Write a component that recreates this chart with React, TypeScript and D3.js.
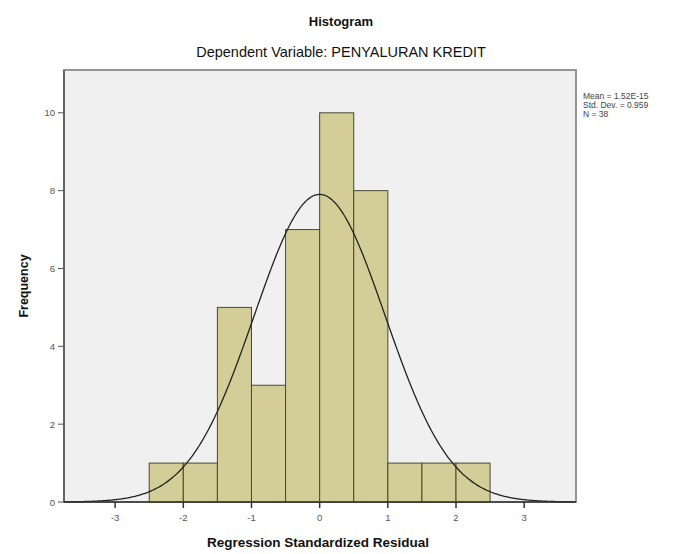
import { useEffect, useRef } from 'react'
import * as d3 from 'd3'

// bin edges (standardized residual) and counts per bin
const binStarts = [-2.5, -2, -1.5, -1, -0.5, 0, 0.5, 1, 1.5, 2]
const binCounts = [1, 1, 5, 3, 7, 10, 8, 1, 1, 1]
const binWidth = 0.5
const xTicks = [-3, -2, -1, 0, 1, 2, 3]
const yTicks = [0, 2, 4, 6, 8, 10]
const stats = { mean: 1.52e-15, sd: 0.959, n: 38 }
const legendLines = ['Mean = 1.52E-15', 'Std. Dev. = 0.959', 'N = 38']

const W = 688
const H = 554
const plot = { left: 64, right: 576, top: 70, bottom: 502 }

function App() {
  const svgRef = useRef<SVGSVGElement | null>(null)

  useEffect(() => {
    document.body.style.margin = '0'
    const svg = d3.select(svgRef.current)
    svg.selectAll('*').remove()
    const font = '"Liberation Sans", Arial, sans-serif'

    const x = d3.scaleLinear().domain([-3.75, 3.76]).range([plot.left, plot.right])
    const y = d3.scaleLinear().domain([0, 11.1]).range([plot.bottom, plot.top])

    svg.append('rect').attr('width', W).attr('height', H).attr('fill', '#ffffff')

    // titles
    svg.append('text')
      .attr('x', 341).attr('y', 26)
      .attr('text-anchor', 'middle')
      .attr('font-family', font).attr('font-weight', 'bold').attr('font-size', 13)
      .attr('fill', '#111')
      .text('Histogram')
    svg.append('text')
      .attr('x', 341).attr('y', 57)
      .attr('text-anchor', 'middle')
      .attr('font-family', font).attr('font-size', 14.5)
      .attr('fill', '#111')
      .text('Dependent Variable: PENYALURAN KREDIT')

    // plot background + frame
    svg.append('rect')
      .attr('x', plot.left).attr('y', plot.top)
      .attr('width', plot.right - plot.left).attr('height', plot.bottom - plot.top)
      .attr('fill', '#f0f0f0')
      .attr('stroke', '#8a8a8a').attr('stroke-width', 1.8)

    // bars
    svg.append('g').selectAll('rect')
      .data(binStarts)
      .join('rect')
      .attr('x', d => x(d))
      .attr('y', (d, i) => y(binCounts[i]))
      .attr('width', d => x(d + binWidth) - x(d))
      .attr('height', (d, i) => y(0) - y(binCounts[i]))
      .attr('fill', '#d3ce97')
      .attr('stroke', '#4a4830')
      .attr('stroke-width', 1)

    // normal curve
    const scaleFactor = stats.n * binWidth
    const pdf = (v: number) =>
      Math.exp(-0.5 * ((v - stats.mean) / stats.sd) ** 2) / (stats.sd * Math.sqrt(2 * Math.PI))
    const curvePts = d3.range(-3.75, 3.7601, 0.02).map(v => [v, scaleFactor * pdf(v)] as [number, number])
    svg.append('path')
      .datum(curvePts)
      .attr('d', d3.line<[number, number]>().x(d => x(d[0])).y(d => y(d[1])).curve(d3.curveBasis))
      .attr('fill', 'none')
      .attr('stroke', '#222')
      .attr('stroke-width', 1.3)

    // axes lines (darker left and bottom)
    svg.append('line')
      .attr('x1', plot.left).attr('x2', plot.left)
      .attr('y1', plot.top).attr('y2', plot.bottom)
      .attr('stroke', '#555').attr('stroke-width', 1.5)
    svg.append('line')
      .attr('x1', plot.left).attr('x2', plot.right)
      .attr('y1', plot.bottom).attr('y2', plot.bottom)
      .attr('stroke', '#333').attr('stroke-width', 1.5)

    // y axis
    const yAxis = svg.append('g')
    yTicks.forEach(t => {
      yAxis.append('line')
        .attr('x1', plot.left - 6).attr('x2', plot.left)
        .attr('y1', y(t)).attr('y2', y(t))
        .attr('stroke', '#555').attr('stroke-width', 1)
      yAxis.append('text')
        .attr('x', plot.left - 9).attr('y', y(t) + 3.5)
        .attr('text-anchor', 'end')
        .attr('font-family', font).attr('font-size', 9.5)
        .attr('fill', '#555')
        .text(t)
    })

    // x axis
    const xAxis = svg.append('g')
    xTicks.forEach(t => {
      xAxis.append('line')
        .attr('x1', x(t)).attr('x2', x(t))
        .attr('y1', plot.bottom).attr('y2', plot.bottom + 6)
        .attr('stroke', '#333').attr('stroke-width', 1.5)
      xAxis.append('text')
        .attr('x', x(t)).attr('y', plot.bottom + 19)
        .attr('text-anchor', 'middle')
        .attr('font-family', font).attr('font-size', 9.5)
        .attr('fill', '#555')
        .text(t)
    })

    // axis titles
    svg.append('text')
      .attr('x', 318).attr('y', 547)
      .attr('text-anchor', 'middle')
      .attr('font-family', font).attr('font-weight', 'bold').attr('font-size', 13.5)
      .attr('fill', '#111')
      .text('Regression Standardized Residual')
    svg.append('text')
      .attr('transform', `translate(28, ${(plot.top + plot.bottom) / 2}) rotate(-90)`)
      .attr('text-anchor', 'middle')
      .attr('font-family', font).attr('font-weight', 'bold').attr('font-size', 12.5)
      .attr('fill', '#111')
      .text('Frequency')

    // stats legend
    legendLines.forEach((s, i) => {
      svg.append('text')
        .attr('x', 583).attr('y', 99 + i * 9)
        .attr('font-family', font).attr('font-size', 8.5)
        .attr('fill', '#444')
        .text(s)
    })
  }, [])

  return <svg ref={svgRef} width={W} height={H} style={{ display: 'block' }} />
}

export default App
